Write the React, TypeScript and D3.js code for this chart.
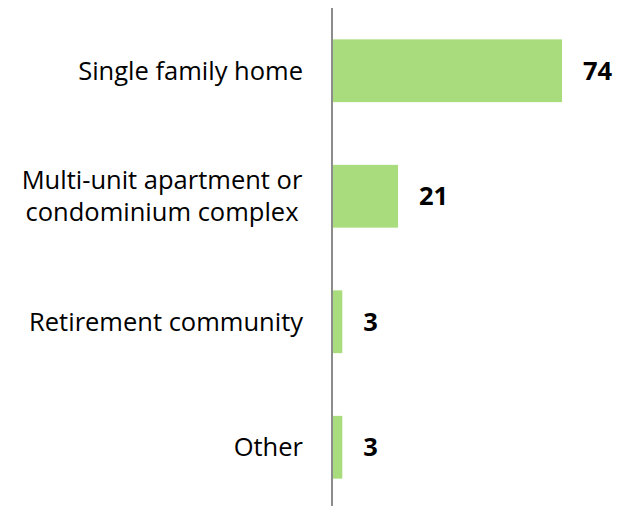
import React from "react";
import * as d3 from "d3";

const categories = ["Single family home", "Multi-unit apartment or condominium complex", "Retirement community", "Other"];
const labelLines = [["Single family home"], ["Multi-unit apartment or", "condominium complex"], ["Retirement community"], ["Other"]];
const values = [74, 21, 3, 3];

const W = 625;
const H = 506;

export default function App() {
  const y = d3.scaleBand<string>().domain(categories).range([8, 510]).paddingInner(0.5).paddingOuter(0.25);
  const x = d3.scaleLinear().domain([0, 74]).range([333, 562]);
  const font = "'Open Sans', sans-serif";
  return (
    <svg width={W} height={H} style={{ position: "absolute", left: 0, top: 0, display: "block" }}>
      <rect width={W} height={H} fill="#ffffff" />
      {categories.map((c, i) => {
        const yc = (y(c) as number) + y.bandwidth() / 2;
        const lines = labelLines[i];
        const lh = 32;
        const multi = lines.length > 1;
        return (
          <g key={c}>
            <rect x={x(0)} y={y(c)} width={x(values[i]) - x(0)} height={y.bandwidth()} fill="#a9dc7c" />
            <text x={x(values[i]) + 21} y={yc} dy="0.36em" fontFamily={font} fontWeight="bold" fontSize={25.5} fill="#000">
              {values[i]}
            </text>
            {lines.map((l, j) => (
              <text key={j} x={multi ? 162 : 303} y={yc + (j - (lines.length - 1) / 2) * lh} dy="0.36em" textAnchor={multi ? "middle" : "end"} fontFamily={font} fontSize={25.5} fill="#000">
                {l}
              </text>
            ))}
          </g>
        );
      })}
      <line x1={332} x2={332} y1={8} y2={H} stroke="#8c8c8c" strokeWidth={2} />
    </svg>
  );
}
